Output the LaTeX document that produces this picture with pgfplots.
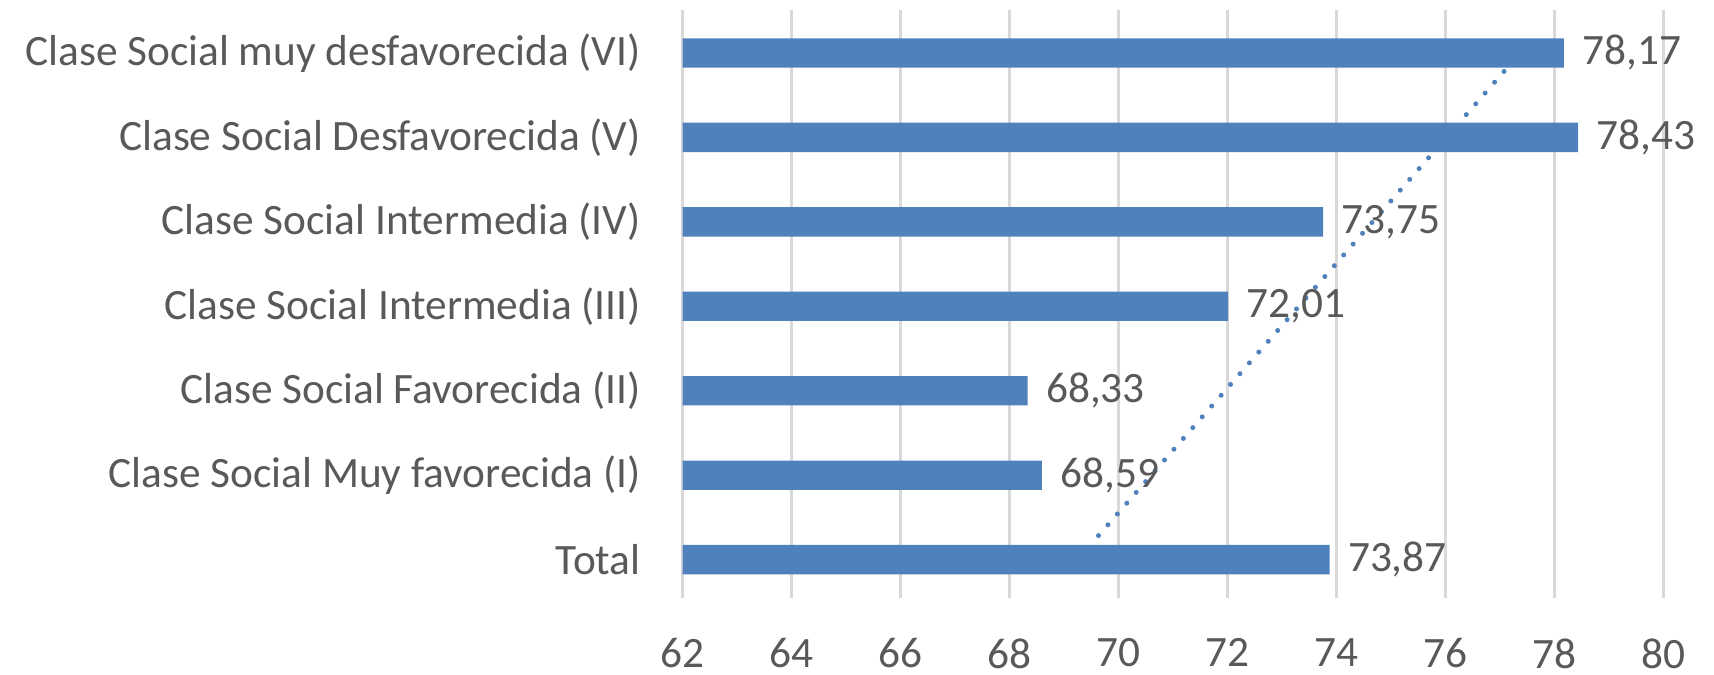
\documentclass[border=0pt]{standalone}
\usepackage{pgfplots}
\pgfplotsset{compat=1.18}
\usepackage{fontspec}
\setmainfont{Carlito}
\definecolor{barblue}{HTML}{4F81BD}
\definecolor{txt}{HTML}{595959}
\definecolor{gridc}{HTML}{D9D9D9}
\begin{document}
\begin{tikzpicture}
\path[use as bounding box] (0,0) rectangle (514.2pt,202.5pt);
\begin{axis}[
  at={(204.8pt,23.1pt)}, anchor=south west,
  scale only axis,
  width=294.3pt, height=176.4pt,
  xmin=62, xmax=80,
  ymin=-0.454, ymax=6.509,
  xtick={62,64,...,80},
  ytick={0,1,2,3,4,5,6},
  yticklabels={Total,Clase Social Muy favorecida (I),Clase Social Favorecida (II),Clase Social Intermedia (III),Clase Social Intermedia (IV),Clase Social Desfavorecida (V),Clase Social muy desfavorecida (VI)},
  axis line style={draw=none},
  major tick length=0pt,
  xmajorgrids,
  grid style={gridc, line width=1pt},
  tick label style={font=\fontsize{13}{15}\selectfont, text=txt},
  /pgf/number format/assume math mode=true,
  xticklabel style={inner sep=0pt, anchor=north, yshift=-12pt},
  yticklabel style={inner sep=0pt, anchor=east, xshift=-12.4pt},
]
\addplot[xbar, bar width=8.8pt, fill=barblue, draw=none,
  nodes near coords,
  nodes near coords align={horizontal},
  every node near coord/.append style={font=\fontsize{13}{15}\selectfont, text=txt, anchor=west, xshift=2pt,
    /pgf/number format/.cd, fixed, fixed zerofill, precision=2, use comma}]
 coordinates {
  (73.87,0) (68.59,1) (68.33,2) (72.01,3) (73.75,4) (78.43,5) (78.17,6)
};
\addplot[barblue, line width=1.5pt, line cap=round, dash pattern=on 0pt off 4.3pt, mark=none]
 coordinates {(69.63,0.285) (77.13,5.825)};
\end{axis}
\end{tikzpicture}
\end{document}
